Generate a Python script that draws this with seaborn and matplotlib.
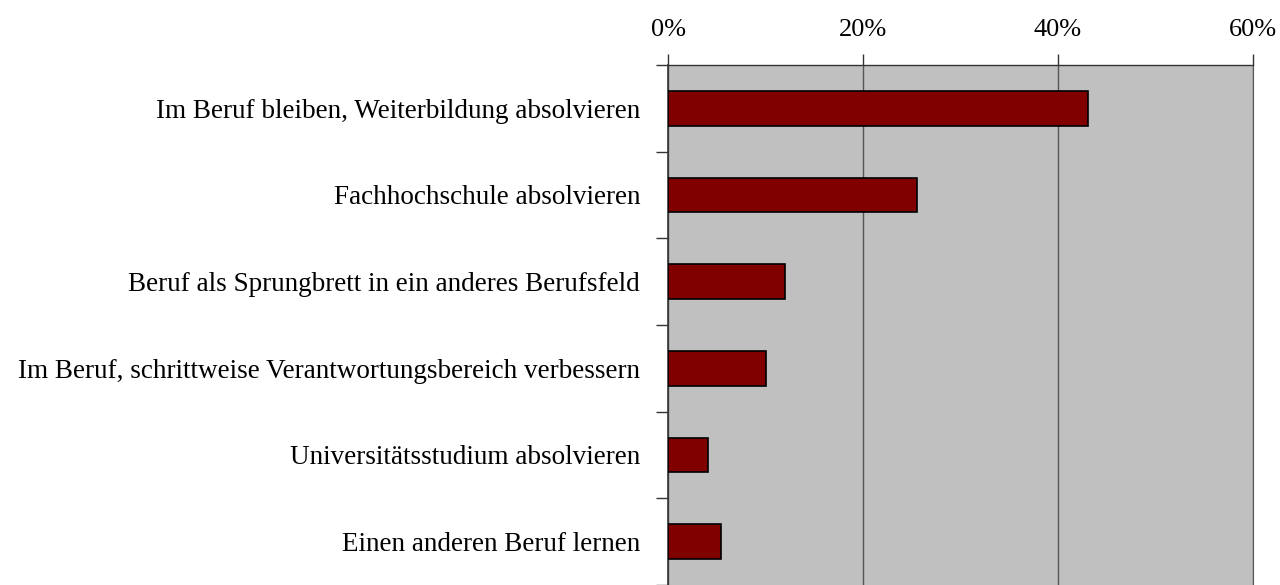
import numpy as np
import matplotlib
matplotlib.use("Agg")
import matplotlib.pyplot as plt
import matplotlib.ticker as mticker
import pandas as pd
import seaborn as sb

categories = ["Im Beruf bleiben, Weiterbildung absolvieren",
              "Fachhochschule absolvieren",
              "Beruf als Sprungbrett in ein anderes Berufsfeld",
              "Im Beruf, schrittweise Verantwortungsbereich verbessern",
              "Universitätsstudium absolvieren",
              "Einen anderen Beruf lernen"]
values = [43.1, 25.5, 12.0, 10.1, 4.1, 5.4]
x_ticks = [0, 20, 40, 60]

df = pd.DataFrame({"Kategorie": categories, "Anteil": values})

sb.set_style("white")
plt.rcParams['font.family'] = ['Liberation Serif', 'DejaVu Serif']
plt.rcParams['text.color'] = "black"
plt.rcParams['xtick.color'] = "#333333"
plt.rcParams['ytick.color'] = "#333333"
plt.rcParams['xtick.labelcolor'] = "black"
plt.rcParams['ytick.labelcolor'] = "black"

fig = plt.figure(figsize=(12.8, 5.85), dpi=100)
ax = fig.add_axes([668/1280, 0, 585/1280, 1 - 65/585])
ax.set_facecolor("#c0c0c0")

sb.barplot(data=df, x="Anteil", y="Kategorie", orient="h", color="#800000",
           width=0.4, edgecolor="black", linewidth=1.2, saturation=1, ax=ax, zorder=3)

ax.set_xlim(0, 60)
ax.set_ylim(5.5, -0.5)
ax.xaxis.tick_top()
ax.set_xticks(x_ticks)
ax.xaxis.set_major_formatter(mticker.PercentFormatter(decimals=0))
ax.tick_params(axis="x", top=True, direction="out", length=8, width=1,
               labelsize=19, pad=9)
ax.grid(axis="x", color="#555555", linewidth=1, zorder=1)
ax.set_axisbelow(True)

# y ticks sit between the categories
ax.set_yticks(np.arange(len(categories) + 1) - 0.5, minor=True)
ax.tick_params(axis="y", which="minor", left=True, direction="out", length=9, width=1)
ax.tick_params(axis="y", which="major", left=False, length=0, labelsize=19.5, pad=20)

ax.set_xlabel("")
ax.set_ylabel("")
ax.spines["bottom"].set_visible(False)
for side in ["left", "top", "right"]:
    ax.spines[side].set_color("#333333")
ax.spines["left"].set_linewidth(1.2)
ax.spines["top"].set_linewidth(1)
ax.spines["right"].set_color("#555555")

fig.savefig("out.png", dpi=100)
